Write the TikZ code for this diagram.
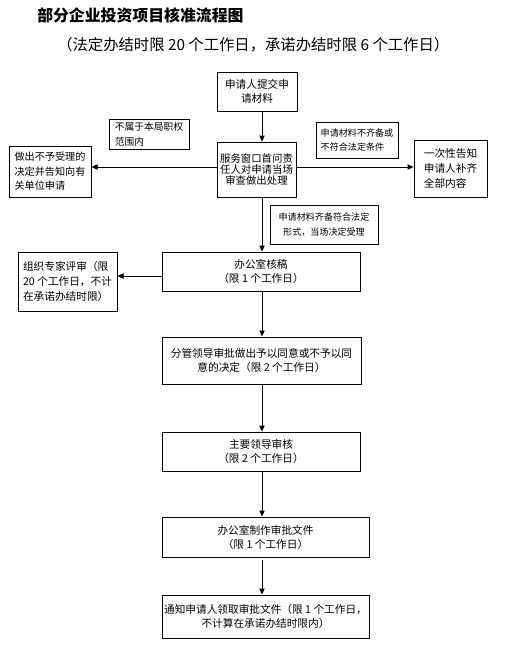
\documentclass[tikz,border=0pt]{standalone}
\usepackage{fontspec}
\setmainfont{Noto Sans CJK SC}
\usetikzlibrary{arrows.meta}
\tikzset{
  bx/.style={draw, line width=0.75pt, align=center, inner sep=0pt, font=\fontsize{8}{10.5}\selectfont},
  lb/.style={draw, line width=0.75pt, align=left, inner sep=0pt, font=\fontsize{6.8}{11}\selectfont},
  arr/.style={line width=0.75pt, -{Triangle[length=4.5pt,width=4pt]}},
}
\begin{document}
\begin{tikzpicture}[x=0.75pt,y=-0.75pt]
\fill[white] (0,0) rectangle (514,658);
\useasboundingbox (0,0) rectangle (514,658);
% titles
\node[anchor=west, inner sep=0pt, font=\fontsize{11.9}{12}\selectfont\bfseries] (title) at (37,15) {部分企业投资项目核准流程图};
\node[anchor=west, inner sep=0pt, font=\fontsize{11.5}{12}\selectfont] (sub) at (57,45) {（法定办结时限 20 个工作日，承诺办结时限 6 个工作日）};
% main boxes
\node[bx, minimum width=60pt, minimum height=29.25pt] (b1) at (257,91.5) {申请人提交申\\请材料};
\node[bx, minimum width=59.25pt, minimum height=41.25pt, font=\fontsize{7.8}{8.6}\selectfont] (b2) at (256.5,169.5) {服务窗口首问责\\任人对申请当场\\审查做出处理};
\node[bx, align=left, minimum width=61.5pt, minimum height=38.25pt, font=\fontsize{7.6}{10.9}\selectfont] (la) at (50,171.5) {做出不予受理的\\决定并告知向有\\关单位申请};
\node[lb, minimum width=60pt, minimum height=22.5pt, font=\fontsize{7.3}{11}\selectfont] (ta) at (149,134) {不属于本局职权\\范围内};
\node[lb, minimum width=61.5pt, minimum height=27pt] (tb) at (357,140) {申请材料不齐备或\\不符合法定条件};
\node[bx, align=left, minimum width=54.75pt, minimum height=42.75pt, font=\fontsize{8}{11.2}\selectfont] (rb) at (450.5,168.5) {一次性告知\\申请人补齐\\全部内容};
\node[lb, align=center, minimum width=81pt, minimum height=29.25pt] (tc) at (324,224.5) {申请材料齐备符合法定\\形式，当场决定受理};
\node[bx, minimum width=148.5pt, minimum height=29.25pt] (b3) at (261,271.5) {办公室核稿\\（限 1 个工作日）};
\node[bx, align=left, minimum width=74.25pt, minimum height=44.25pt, font=\fontsize{8}{11}\selectfont] (lc) at (67.5,281.5) {组织专家评审（限\\20 个工作日，不计\\在承诺办结时限）};
\node[bx, minimum width=149.25pt, minimum height=35.25pt] (b4) at (261.5,360.5) {分管领导审批做出予以同意或不予以同\\意的决定（限 2 个工作日）};
\node[bx, minimum width=148.5pt, minimum height=29.25pt] (b5) at (261,451.5) {主要领导审核\\（限 2 个工作日）};
\node[bx, minimum width=155.25pt, minimum height=30pt] (b6) at (265.5,537) {办公室制作审批文件\\（限 1 个工作日）};
\node[bx, minimum width=155.25pt, minimum height=32.25pt] (b7) at (265.5,616.5) {通知申请人领取审批文件（限 1 个工作日，\\不计算在承诺办结时限内）};
% connectors
\coordinate (vx) at (262,0);
\coordinate (s6) at (262,560);
\draw[arr] (b1.south -| vx) -- (b2.north -| vx);
\draw[arr] (b2.south -| vx) -- (b3.north -| vx);
\draw[arr] (b3.south -| vx) -- (b4.north -| vx);
\draw[arr] (b4.south -| vx) -- (b5.north -| vx);
\draw[arr] (b5.south -| vx) -- (b6.north -| vx);
\draw[arr] (s6) -- (b7.north -| vx);
\coordinate (hy) at (0,167);
\draw[arr] (b2.west |- hy) -- (la.east |- hy);
\draw[arr] (b2.east |- hy) -- (rb.west |- hy);
\coordinate (hy2) at (0,276);
\draw[arr] (b3.west |- hy2) -- (lc.east |- hy2);
\end{tikzpicture}
\end{document}
